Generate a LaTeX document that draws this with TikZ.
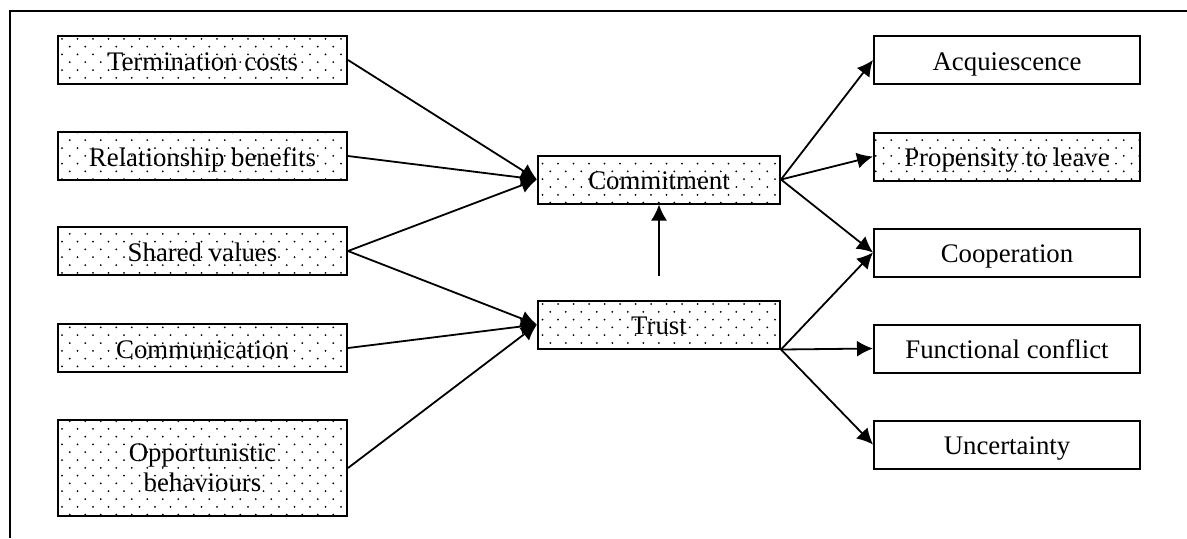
\documentclass[tikz,border=0pt]{standalone}
\usepackage{fontspec}
\setmainfont{Liberation Serif}
\usetikzlibrary{patterns.meta,arrows.meta}
\tikzdeclarepattern{
  name=sparsedots,
  type=uncolored,
  bounding box={(-0.5pt,-0.5pt) and (7.25pt,7.3pt)},
  tile size={(7.75pt,7.8pt)},
  code={
    \fill (0,0) circle (0.5pt);
    \fill (3.875pt,3.9pt) circle (0.5pt);
  }
}
\tikzset{
  box/.style={draw, line width=1pt, inner sep=0pt, align=center,
    text height=10pt, text depth=0pt,
    font=\fontsize{13.4}{15}\selectfont},
  dotbox/.style={box, pattern={sparsedots}, pattern color=black},
  leftbox/.style={dotbox, minimum width=144.5pt, minimum height=24pt},
  midbox/.style={dotbox, minimum width=121pt, minimum height=24pt},
  rightbox/.style={box, minimum width=133pt, minimum height=24pt},
  arr/.style={line width=0.9pt, -{Latex[length=8pt,width=8pt]}},
  frameline/.style={line width=1pt}
}
\begin{document}
\begin{tikzpicture}[x=0.5pt,y=-0.5pt]
\useasboundingbox (0,0) rectangle (1187,538);
\coordinate (fa) at (9.5,538);
\coordinate (fb) at (9.5,10.5);
\coordinate (fc) at (1187,10.5);
\draw[frameline] (fa) -- (fb) -- (fc);

\node[leftbox] (tc) at (202.5,60) {Termination costs};
\node[leftbox] (rb) at (202.5,156) {Relationship benefits};
\node[leftbox] (sv) at (202.5,251) {Shared values};
\node[leftbox] (co) at (202.5,348) {Communication};
\node[leftbox, minimum height=48pt, text height=, text depth=] (ob) at (202.5,468) {Opportunistic\\behaviours};

\node[midbox] (cm) at (659,179.5) {Commitment};
\node[midbox] (tr) at (659,324.5) {Trust};

\node[rightbox] (aq) at (1007,60) {Acquiescence};
\node[dotbox, minimum width=133pt, minimum height=24pt] (pl) at (1007,156.5) {Propensity to leave};
\node[rightbox] (cp) at (1007,252.5) {Cooperation};
\node[rightbox] (fc2) at (1007,348.5) {Functional conflict};
\node[rightbox] (un) at (1007,444.5) {Uncertainty};

\draw[arr] (tc.east) -- (cm.west);
\draw[arr] (rb.east) -- (cm.west);
\draw[arr] (sv.east) -- (cm.west);
\draw[arr] (sv.east) -- (tr.west);
\draw[arr] (co.east) -- (tr.west);
\draw[arr] (ob.east) -- (tr.west);
\draw[arr, shorten <=12pt] (tr.north) -- (cm.south);

\draw[arr] (cm.east) -- (aq.west);
\draw[arr] (cm.east) -- (pl.west);
\draw[arr] (cm.east) -- (cp.west);
\draw[arr] (tr.south east) -- (cp.west);
\draw[arr] (tr.south east) -- (fc2.west);
\draw[arr] (tr.south east) -- (un.west);
\end{tikzpicture}
\end{document}
